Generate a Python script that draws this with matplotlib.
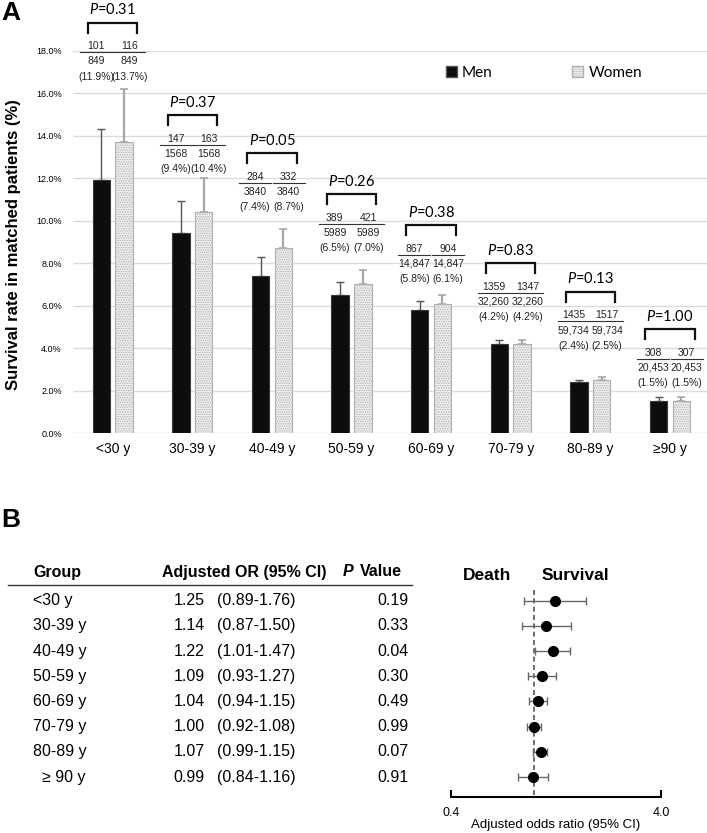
import matplotlib.pyplot as plt
import matplotlib.patches as mpatches
from matplotlib import transforms
from matplotlib.lines import Line2D
from matplotlib.ticker import FuncFormatter, NullLocator, FixedLocator
import numpy as np

plt.rcParams['font.family'] = ['Liberation Sans', 'DejaVu Sans']
plt.rcParams['mathtext.fontset'] = 'custom'
plt.rcParams['mathtext.it'] = 'Lato:italic'
plt.rcParams['mathtext.rm'] = 'Lato'
plt.rcParams['hatch.linewidth'] = 0.7

# ---- panel A data ----
age_groups = ['<30 y', '30-39 y', '40-49 y', '50-59 y', '60-69 y', '70-79 y', '80-89 y', '≥90 y']
men_rate = [11.9, 9.4, 7.4, 6.5, 5.8, 4.2, 2.4, 1.5]
women_rate = [13.7, 10.4, 8.7, 7.0, 6.1, 4.2, 2.5, 1.5]
men_ci_upper = [14.3, 10.9, 8.3, 7.1, 6.2, 4.4, 2.5, 1.7]
women_ci_upper = [16.2, 12.0, 9.6, 7.7, 6.5, 4.4, 2.65, 1.7]
men_survivors = ['101', '147', '284', '389', '867', '1359', '1435', '308']
women_survivors = ['116', '163', '332', '421', '904', '1347', '1517', '307']
matched_n = ['849', '1568', '3840', '5989', '14,847', '32,260', '59,734', '20,453']
p_values = ['0.31', '0.37', '0.05', '0.26', '0.38', '0.83', '0.13', '1.00']

# ---- panel B data ----
or_groups = ['<30 y', '30-39 y', '40-49 y', '50-59 y', '60-69 y', '70-79 y', '80-89 y', '  ≥ 90 y']
adj_or = [1.25, 1.14, 1.22, 1.09, 1.04, 1.00, 1.07, 0.99]
ci_low = [0.89, 0.87, 1.01, 0.93, 0.94, 0.92, 0.99, 0.84]
ci_high = [1.76, 1.50, 1.47, 1.27, 1.15, 1.08, 1.15, 1.16]
or_p = ['0.19', '0.33', '0.04', '0.30', '0.49', '0.99', '0.07', '0.91']

W, H = 707, 833
fig = plt.figure(figsize=(W / 100, H / 100), dpi=100)


def fx(px):
    return px / W


def fy(py):
    return 1 - py / H


# ================= panel A =================
ax = fig.add_axes([fx(72.9), fy(433.3), 636.8 / W, 382.8 / H])
x = np.arange(len(age_groups))
bw = 0.22
off = 0.143

# error bars sit behind the bars, so only the upper half shows
ax.errorbar(x - off, men_rate, yerr=[np.zeros(8), np.array(men_ci_upper) - men_rate],
            fmt='none', ecolor='#555555', elinewidth=1, capsize=3, capthick=1, zorder=1)
ax.errorbar(x + off, women_rate, yerr=[np.zeros(8), np.array(women_ci_upper) - women_rate],
            fmt='none', ecolor='#a8a8a8', elinewidth=1.6, capsize=3, capthick=1.2, zorder=1)
ax.bar(x - off, men_rate, bw, color='#0d0d0d', edgecolor='#3a3a3a', lw=0.8, zorder=2)
ax.bar(x + off, women_rate, bw, color='#f0f0f0', edgecolor='#b0b0b0', hatch='.......',
       lw=0.8, zorder=2)

ax.set_xlim(-0.5, 7.5)
ax.set_ylim(0, 18)
ax.set_yticks(np.arange(0, 18.1, 2))
ax.yaxis.set_major_formatter(FuncFormatter(lambda v, p: f'{v:.1f}%'))
ax.tick_params(axis='y', length=0, pad=8, labelsize=6.5)
ax.set_xticks(x)
ax.set_xticklabels(age_groups, fontsize=10)
ax.tick_params(axis='x', length=0, pad=6)
ax.yaxis.grid(True, color='#dcdcdc', lw=1)
ax.set_axisbelow(True)
for s in ax.spines.values():
    s.set_visible(False)


def below(dy_px):
    # data transform shifted down by dy_px pixels
    return transforms.offset_copy(ax.transData, fig=fig, x=0, y=-dy_px, units='dots')


# height of each bracket (layout, % units)
bracket_top = [19.3, 14.96, 13.16, 11.25, 9.79, 7.99, 6.66, 4.90]
leg = 10 / 21.27  # bracket legs, ~10 px
num_font = dict(fontsize=7.5, color='#222222', ha='center', va='center', clip_on=False)
for i in range(len(age_groups)):
    yb = bracket_top[i]
    ax.plot([i - 0.31, i - 0.31, i + 0.31, i + 0.31], [yb - leg, yb, yb, yb - leg],
            color='#111111', lw=1.6, clip_on=False, solid_joinstyle='miter')
    ax.text(i, yb, f'$\\mathit{{P}}$=' + p_values[i], transform=below(-13),
            ha='center', va='center', fontsize=10.5, family='Lato', clip_on=False)
    for side, num, rate in [(-1, men_survivors[i], men_rate[i]),
                            (1, women_survivors[i], women_rate[i])]:
        cx = i + side * 0.21
        ax.text(cx, yb, num, transform=below(23.5), **num_font)
        ax.plot([cx - 0.2, cx + 0.2], [yb, yb], transform=below(29.5),
                color='#333333', lw=0.8, clip_on=False)
        ax.text(cx, yb, matched_n[i], transform=below(38.5), **num_font)
        ax.text(cx, yb, f'({rate:.1f}%)', transform=below(54), **num_font)

legend_handles = [
    mpatches.Patch(facecolor='#0d0d0d', edgecolor='#555555', label='Men'),
    mpatches.Patch(facecolor='#f0f0f0', edgecolor='#b0b0b0', hatch='.......', label='Women'),
]
fig.legend(handles=legend_handles, loc='center', bbox_to_anchor=(fx(544), fy(73)),
           ncol=2, frameon=False, prop={'family': 'Lato', 'size': 11},
           handlelength=0.7, handleheight=0.7, handletextpad=0.35, columnspacing=5.2)

fig.text(fx(14), fy(245), 'Survival rate in matched patients (%)', rotation=90,
         ha='center', va='center', fontsize=12, weight='bold')
fig.text(fx(1), fy(20), 'A', fontsize=19, weight='bold', ha='left', va='baseline')

# ================= panel B =================
fig.text(fx(1), fy(527), 'B', fontsize=19, weight='bold', ha='left', va='baseline')

row_y0, row_step = 600.7, 25.2
tfs = 11.5
fig.text(fx(33), fy(572), 'Group', fontsize=tfs, weight='bold', va='center')
fig.text(fx(161.7), fy(572), 'Adjusted OR (95% CI)', fontsize=tfs, weight='bold', va='center')
fig.text(fx(343), fy(572), 'P', fontsize=tfs, weight='bold', style='italic', va='center')
fig.text(fx(360), fy(572), 'Value', fontsize=tfs, weight='bold', va='center')
fig.add_artist(Line2D([fx(8), fx(412)], [fy(585), fy(585)], color='#333333', lw=1))

for i in range(len(or_groups)):
    yy = fy(row_y0 + i * row_step)
    fig.text(fx(33), yy, or_groups[i], fontsize=tfs, va='center')
    fig.text(fx(205), yy, f'{adj_or[i]:.2f}', fontsize=tfs, va='center', ha='right')
    fig.text(fx(216.7), yy, f'({ci_low[i]:.2f}-{ci_high[i]:.2f})', fontsize=tfs, va='center')
    fig.text(fx(409), yy, or_p[i], fontsize=tfs, va='center', ha='right')

fig.text(fx(486.7), fy(575), 'Death', fontsize=12.5, weight='bold', ha='center', va='center')
fig.text(fx(575), fy(575), 'Survival', fontsize=12.5, weight='bold', ha='center', va='center')

axf = fig.add_axes([fx(450.7), fy(797.3), (661 - 450.7) / W, (797.3 - 585) / H])
rows = np.arange(len(or_groups))
axf.set_xscale('log')
axf.set_xlim(0.4, 4.0)
axf.set_ylim(7.8, -0.62)
axf.plot([1, 1], [-0.42, 7.8], ls=(0, (3, 2)), color='#555555', lw=1.2, zorder=1)
axf.errorbar(adj_or, rows,
             xerr=[np.array(adj_or) - ci_low, np.array(ci_high) - adj_or],
             fmt='o', color='black', ecolor='#666666', elinewidth=1, capsize=3,
             capthick=1, markersize=7, zorder=3)
axf.xaxis.set_major_locator(FixedLocator([0.4, 4.0]))
axf.xaxis.set_minor_locator(NullLocator())
axf.xaxis.set_major_formatter(FuncFormatter(lambda v, p: f'{v:.1f}'))
axf.tick_params(axis='x', direction='in', length=5, width=1.5, pad=7, labelsize=9)
axf.set_yticks([])
for side in ['top', 'left', 'right']:
    axf.spines[side].set_visible(False)
axf.spines['bottom'].set_linewidth(1.5)
axf.set_facecolor('none')
axf.set_xlabel('Adjusted odds ratio (95% CI)', fontsize=9.5, labelpad=0)

fig.savefig('out.png', dpi=100, facecolor='white')
